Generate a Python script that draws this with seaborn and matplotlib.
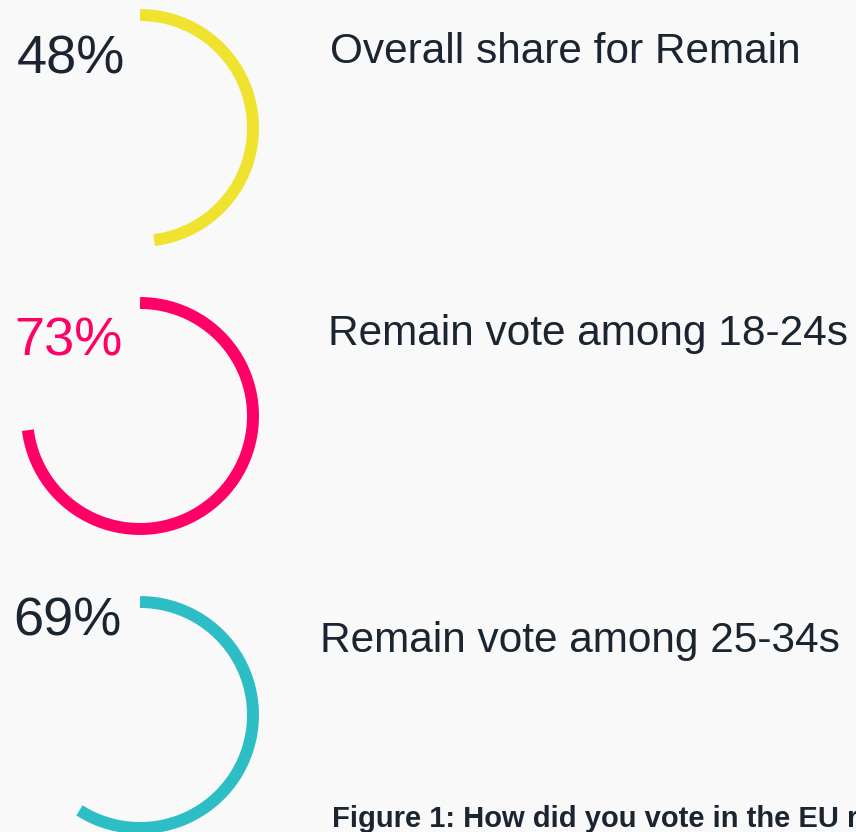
import numpy as np
import pandas as pd
import matplotlib
matplotlib.use("Agg")
import matplotlib.pyplot as plt
import seaborn as sns

# Values shown in the chart
labels = ["48%", "73%", "69%"]
captions = ["Overall share for Remain", "Remain vote among 18-24s", "Remain vote among 25-34s"]
arc_share = [48, 73, 59]          # how far each ring is drawn (as seen in the picture)
colors = ["#f0e330", "#ff0066", "#2dbdc5"]
label_colors = ["#1b2531", "#ff0066", "#1b2531"]
figure_note = "Figure 1: How did you vote in the EU referendum?"

sns.set_theme(style="white")
plt.rcParams["font.family"] = ["Liberation Sans", "DejaVu Sans"]

bg = "#f9f9f9"
fig = plt.figure(figsize=(8.56, 8.32), dpi=100, facecolor=bg)
ax = fig.add_axes([0, 0, 1, 1])
ax.set_facecolor(bg)
ax.axis("off")

# ring layout (pixel space)
cx, radius = 140, 113
centers_y = [128, 416, 715]
pct_pos = [(17, 73), (14, 356), (13, 635)]
cap_pos = [(330, 63), (328, 345), (320, 652)]

for i in range(3):
    t = np.linspace(0, 2 * np.pi * arc_share[i] / 100, 300)
    arc = pd.DataFrame({"x": cx + radius * np.sin(t),
                        "y": centers_y[i] - radius * np.cos(t)})
    sns.lineplot(data=arc, x="x", y="y", sort=False, estimator=None,
                 color=colors[i], linewidth=8.6, solid_capstyle="butt", ax=ax)
    ax.text(pct_pos[i][0], pct_pos[i][1], labels[i], fontsize=39,
            color=label_colors[i], va="baseline", ha="left")
    ax.text(cap_pos[i][0], cap_pos[i][1], captions[i], fontsize=30.5,
            color="#1b2531", va="baseline", ha="left")

# caption runs off the right edge, as in the original
ax.text(332, 827, figure_note, fontsize=21, fontweight="bold",
        color="#1b2531", va="baseline", ha="left")

ax.set_xlim(0, 856)
ax.set_ylim(832, 0)
ax.set_xlabel("")
ax.set_ylabel("")
fig.savefig("out.png", dpi=100, facecolor=bg)
